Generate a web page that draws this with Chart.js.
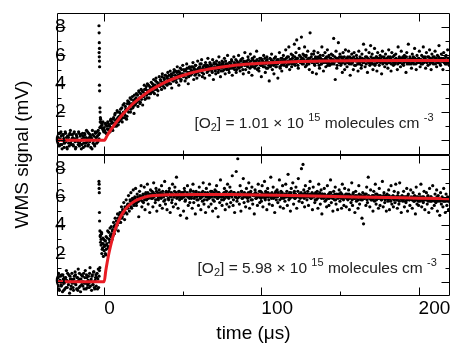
<!DOCTYPE html>
<html>
<head>
<meta charset="utf-8">
<script src="https://cdn.jsdelivr.net/npm/chart.js@4.4.1/dist/chart.umd.min.js"></script>
<style>
  body { margin: 0; background: #fff; }
</style>
</head>
<body>
<canvas id="c" width="454" height="345"></canvas>
<script>
// traces are sampled every 0.5 us; sweep A starts at -30 us, sweep B at -29.75 us
const t0 = -30;
const t0b = -29.75;
const dt = 0.5;

// [O2] = 1.01e15 : WMS signal (mV), one row = 5 us
const lowO2Signal = [
  0.3,-0.2,0.5,-0.4,0.1,0.6,-0.3,0.0,0.4,-0.5,
  -0.1,0.5,0.2,-0.6,0.3,-0.2,0.4,0.7,-0.3,0.1,
  0.2,-0.4,0.6,-0.1,-0.5,0.3,0.0,-0.3,0.5,-0.2,
  0.4,-0.6,0.1,0.3,-0.2,0.5,-0.4,0.2,-0.1,0.6,
  -0.3,0.2,0.4,-0.5,0.1,0.7,-0.2,0.3,-0.4,0.5,
  0.2,0.6,-0.1,0.4,0.5,1.3,1.0,1.2,0.8,0.7,
  0.9,0.6,1.1,0.5,0.8,1.2,0.7,1.0,1.4,0.9,
  1.3,0.7,1.6,1.0,1.9,1.2,1.5,2.0,1.1,1.7,
  1.4,2.2,1.8,1.3,2.5,1.9,1.6,2.4,2.1,1.7,
  2.8,2.0,2.6,3.0,2.2,2.5,3.1,2.4,1.9,2.9,
  2.6,3.3,2.9,2.4,3.5,3.0,2.7,3.6,3.1,2.5,
  3.4,3.9,2.9,3.6,3.2,4.0,3.5,3.0,3.8,3.3,
  4.1,3.5,3.8,4.3,3.3,3.9,4.4,3.6,3.2,4.0,
  4.5,3.8,4.2,3.6,4.7,4.0,4.4,3.7,4.6,4.1,
  3.9,4.8,4.3,4.0,4.9,4.5,3.7,4.6,4.2,5.0,
  4.4,4.9,4.1,5.2,4.6,3.9,4.8,5.1,4.3,4.7,
  5.3,4.5,4.9,4.2,5.0,5.4,4.6,4.0,5.1,4.8,
  4.6,5.2,4.9,5.5,4.3,5.0,5.3,4.7,4.4,5.6,
  5.1,4.6,5.4,4.9,5.7,4.5,5.2,5.0,4.4,5.5,
  5.3,4.8,5.8,5.0,4.6,5.4,5.2,4.9,5.7,4.3,
  5.5,5.0,4.7,5.6,5.2,4.8,5.9,5.3,4.5,5.1,
  5.6,4.9,5.3,5.8,4.7,5.4,5.0,6.0,5.2,4.8,
  5.5,5.1,5.7,4.6,5.3,5.9,5.0,5.4,4.8,5.6,
  5.2,6.0,5.4,4.9,5.7,5.3,5.8,4.7,5.5,6.2,
  5.0,5.6,5.3,5.9,4.8,5.5,6.1,5.2,4.6,5.7,
  5.4,5.9,5.1,5.6,6.3,5.0,5.5,4.9,5.8,5.3,
  4.5,5.7,5.4,6.0,5.2,4.8,5.6,5.9,5.1,5.5,
  4.2,5.8,5.3,6.1,5.0,5.6,4.7,5.4,5.9,5.2,
  5.7,4.4,5.5,6.2,5.1,5.8,4.9,5.4,6.0,5.3,
  5.6,6.4,5.2,5.9,5.5,6.6,5.0,5.7,6.1,5.4,
  6.0,5.5,6.8,5.3,6.2,7.1,5.8,5.1,6.5,5.6,
  5.9,7.3,5.4,6.1,5.7,6.6,5.2,6.0,5.5,6.3,
  5.8,5.0,7.6,5.6,6.1,4.8,5.7,6.3,5.3,5.9,
  4.7,5.5,6.2,5.8,5.1,6.0,5.4,6.6,5.6,4.9,
  5.7,6.2,5.2,5.9,6.4,5.5,6.0,5.3,5.8,6.1,
  5.4,6.0,7.2,5.6,4.3,6.3,5.1,5.8,6.9,5.5,
  6.1,5.3,5.9,4.8,6.2,5.6,5.0,6.4,5.7,5.2,
  5.9,6.3,5.4,4.6,5.8,6.1,5.5,5.0,6.2,5.7,
  5.3,6.0,5.6,4.9,6.3,5.4,5.8,5.1,6.1,5.5,
  6.8,5.7,5.2,6.4,5.9,4.8,5.6,6.2,5.3,6.7,
  5.5,6.1,5.0,5.8,6.5,5.4,5.9,4.9,6.2,5.6,
  5.3,6.0,5.7,4.7,6.3,5.5,5.9,5.2,6.1,5.6,
  5.8,5.1,6.4,5.5,5.9,4.9,6.2,5.6,5.3,6.0,
  5.4,6.1,5.7,5.0,6.6,5.5,5.8,5.2,6.3,5.7,
  5.9,5.3,6.0,5.6,4.8,6.2,5.5,6.8,5.4,5.9,
  5.6,5.1,6.1,5.8,5.4,6.5,5.7,5.0,6.0,5.5,
  5.8,6.3,5.2,5.7,6.0,5.4,6.6,5.5,5.9,5.1,
  6.2,5.6,5.3,5.9,6.4,5.5,5.0,6.1,5.7,5.4,
  5.9,6.3,5.6,5.2,6.0,5.5,6.7,5.8,5.3,6.1,
  5.6,5.0,6.2,5.7,5.4,6.0,5.5,6.4,5.8,5.3,
  5.7
];
const lowO2SignalB = [
  -0.4,0.2,0.0,0.5,-0.3,0.3,-0.6,0.4,0.1,-0.2,
  0.6,-0.1,-0.5,0.3,0.2,-0.4,0.5,-0.2,0.0,0.4,
  -0.3,0.5,0.1,-0.6,0.4,0.2,-0.1,0.6,-0.4,0.3,
  0.0,-0.3,0.5,-0.5,0.2,0.4,-0.2,0.7,0.1,-0.4,
  0.5,-0.1,0.3,0.2,-0.6,0.4,0.0,-0.3,0.6,0.2,
  -0.2,0.3,0.7,0.1,0.9,1.5,0.9,1.1,1.3,0.6,
  0.7,1.2,0.5,1.0,1.3,0.8,1.1,0.6,1.5,1.2,
  0.9,1.5,1.2,1.8,1.4,1.0,2.1,1.6,1.3,2.0,
  1.9,1.5,2.3,1.6,2.0,2.6,1.8,2.2,1.5,2.6,
  2.2,2.7,2.4,2.0,2.9,2.6,2.3,2.8,3.2,2.5,
  3.0,2.7,3.2,2.8,3.4,2.6,3.3,2.9,3.5,3.1,
  3.1,3.6,3.3,3.8,3.0,3.5,3.9,3.3,3.6,3.4,
  3.7,4.0,3.4,3.9,3.6,4.2,3.8,4.1,3.5,3.9,
  4.0,4.3,3.9,4.5,4.1,3.8,4.3,4.6,4.0,4.4,
  4.5,4.1,4.6,4.3,4.0,4.7,4.4,4.2,4.8,4.3,
  4.6,4.3,4.8,4.5,4.9,4.4,4.7,4.2,5.0,4.6,
  4.7,5.0,4.6,4.9,4.4,5.1,4.8,4.5,5.2,4.7,
  5.0,4.7,5.2,4.8,5.1,4.6,5.3,4.9,5.0,4.8,
  4.9,5.2,5.0,5.4,4.8,5.1,4.7,5.3,5.0,5.2,
  5.1,5.3,4.9,5.2,5.5,5.0,5.3,4.8,5.1,5.4,
  5.2,4.9,5.4,5.1,5.3,5.0,5.5,5.2,4.9,5.4,
  5.3,5.5,5.0,5.2,5.6,5.1,5.4,5.3,5.0,5.5,
  5.2,5.4,5.6,5.1,5.3,5.5,5.2,5.7,5.0,5.4,
  5.5,5.1,5.3,5.6,5.2,5.4,5.0,5.6,5.3,5.5,
  5.3,5.5,5.2,5.7,5.4,5.1,5.6,5.3,5.8,5.2,
  5.6,5.2,5.5,5.3,5.7,5.4,5.1,5.6,5.4,5.8,
  5.3,5.6,5.2,5.5,5.8,5.4,5.1,5.7,5.5,5.3,
  5.5,5.2,5.7,5.4,5.6,5.3,5.8,5.5,5.2,5.6,
  5.4,5.7,5.5,5.2,5.6,5.3,5.8,5.6,5.4,5.7,
  5.5,5.8,5.3,5.6,5.9,5.4,5.7,5.5,5.2,5.8,
  5.6,5.4,5.9,5.7,5.5,5.8,5.3,5.6,6.0,5.5,
  5.7,5.5,5.8,5.4,6.0,5.6,5.9,5.3,5.7,5.6,
  5.4,5.8,5.6,5.9,5.5,5.7,6.1,5.4,5.8,5.6,
  5.7,5.5,5.9,5.3,5.6,5.8,5.4,5.7,6.0,5.5,
  5.6,5.8,5.5,5.7,5.3,5.9,5.6,5.4,5.8,5.7,
  5.5,5.7,5.4,5.9,5.6,5.8,5.3,5.6,5.7,5.9,
  5.6,5.4,5.8,5.5,5.7,5.9,5.4,5.6,5.8,5.5,
  5.7,5.5,5.9,5.6,5.4,5.8,5.6,5.9,5.3,5.7,
  5.6,5.8,5.4,5.7,5.5,5.9,5.6,5.3,5.8,5.6,
  5.5,5.7,5.9,5.4,5.6,5.8,5.5,5.7,5.4,5.9,
  5.7,5.4,5.8,5.6,5.3,5.7,5.9,5.5,5.8,5.6,
  5.8,5.5,5.7,5.9,5.4,5.6,5.8,5.5,5.7,5.4,
  5.6,5.9,5.5,5.7,5.8,5.4,5.6,5.9,5.5,5.7,
  5.5,5.8,5.6,5.4,5.7,5.9,5.5,5.6,5.8,5.4,
  5.7,5.5,5.8,5.6,5.9,5.4,5.7,5.5,5.6,5.8,
  5.4,5.7,5.5,5.9,5.6,5.8,5.4,5.7,5.5,5.6,
  5.8,5.5,5.7,5.4,5.6,5.9,5.5,5.8,5.6,5.7,
  5.5,5.9,5.6,5.7,5.4,5.8,5.6,5.5,5.9,5.6,
  5.7,5.4,5.8,5.6,5.5,5.9,5.7,5.4,5.6,5.8,
  5.6,5.8,5.5,5.7,5.9,5.4,5.6,5.8,5.5,5.7
];

// [O2] = 5.98e15
const highO2Signal = [
  0.4,-0.3,0.6,-0.6,0.1,-0.2,0.5,-0.7,0.2,-0.1,
  -0.5,0.3,0.8,-0.4,0.0,0.5,-0.8,0.2,-0.3,0.6,
  0.1,-0.6,0.4,0.7,-0.2,-0.5,0.3,0.9,-0.4,0.2,
  -0.7,0.5,0.0,-0.3,0.6,-0.1,0.8,-0.5,0.3,-0.2,
  0.4,-0.4,1.0,0.1,-0.6,0.5,-0.2,0.7,-0.5,0.3,
  -0.3,0.6,0.2,-0.4,0.8,3.2,2.6,2.0,2.4,1.8,
  2.2,2.9,1.9,2.6,3.1,2.4,3.5,2.8,3.3,3.9,
  3.0,3.7,4.2,3.4,4.5,3.8,4.1,4.8,3.6,4.4,
  4.9,4.2,5.3,4.6,5.0,5.6,4.4,5.2,5.8,4.8,
  5.5,6.1,5.0,5.8,6.3,5.2,5.9,6.5,5.4,6.0,
  6.6,5.4,6.2,5.7,4.6,6.4,5.9,6.8,5.3,6.1,
  5.6,6.7,5.1,6.3,5.8,6.9,5.5,6.2,4.9,6.5,
  5.9,6.4,5.3,7.0,6.1,5.6,6.6,5.0,6.3,5.8,
  6.5,5.4,6.0,6.8,5.2,6.2,5.7,7.1,5.5,6.4,
  5.1,6.3,5.8,6.6,4.9,6.1,5.6,6.9,5.3,6.0,
  6.7,5.5,7.4,6.0,5.2,6.4,5.8,4.7,6.2,5.9,
  6.3,5.0,6.6,5.7,6.1,4.5,6.8,5.4,6.0,5.6,
  6.5,5.9,5.2,6.9,5.6,6.2,4.8,6.4,5.8,6.1,
  5.4,6.7,6.0,5.1,6.3,5.7,7.0,5.5,6.2,4.9,
  6.6,5.8,6.1,5.3,6.9,6.0,5.5,6.4,5.0,6.2,
  5.7,6.5,5.2,6.8,5.9,4.6,6.3,5.6,7.2,6.0,
  5.4,6.2,5.8,6.6,5.1,6.4,5.5,6.9,6.0,5.3,
  6.7,5.6,6.1,7.5,5.4,6.3,4.9,6.0,7.8,5.7,
  8.7,6.2,5.5,6.8,5.0,6.4,5.9,7.3,5.6,6.1,
  5.3,6.6,6.0,5.7,7.0,5.2,6.3,5.8,6.7,5.5,
  6.1,4.8,6.5,5.9,6.2,5.4,6.9,6.0,5.6,6.4,
  5.7,6.8,5.3,6.1,7.1,5.8,6.3,5.1,6.6,6.0,
  5.5,6.2,7.4,5.9,5.4,6.7,6.0,4.9,6.3,5.8,
  6.5,5.6,6.1,7.2,5.3,6.4,5.9,6.8,5.2,6.0,
  5.7,6.9,6.2,5.4,7.6,5.8,6.3,5.0,6.6,6.1,
  7.0,5.5,6.4,5.9,6.7,5.2,6.1,7.3,5.7,6.2,
  6.0,8.0,5.6,8.3,6.5,5.3,6.8,6.1,5.8,6.4,
  5.4,6.6,7.1,5.9,6.2,5.1,6.7,6.0,5.6,6.3,
  5.8,6.4,5.2,6.9,6.1,5.5,6.5,4.8,6.2,5.9,
  6.6,5.7,6.0,5.3,6.8,5.9,5.4,6.3,7.2,5.6,
  6.1,5.0,6.4,5.8,6.7,5.5,6.2,5.1,6.0,6.5,
  5.7,6.3,5.2,6.9,5.9,5.4,6.6,6.0,5.3,6.2,
  5.8,6.5,5.1,6.1,5.6,7.0,5.4,6.3,5.9,4.9,
  6.4,5.7,6.0,5.2,6.8,5.5,6.1,5.8,4.5,6.3,
  4.1,5.9,6.2,5.4,6.7,5.6,7.4,6.0,5.3,6.5,
  5.8,6.1,5.0,6.4,5.7,6.9,5.5,6.2,5.9,5.2,
  6.6,5.4,6.0,5.8,7.1,5.3,6.3,5.6,6.1,5.0,
  6.2,5.7,6.5,5.1,5.9,6.8,5.5,6.0,5.3,6.4,
  5.6,6.9,5.8,5.2,6.3,5.5,7.0,5.9,4.9,6.1,
  5.7,6.4,5.3,6.0,5.6,6.6,5.0,6.2,5.8,5.4,
  6.5,5.9,5.2,6.3,5.7,6.1,4.8,6.7,5.5,6.0,
  5.4,6.2,5.8,6.9,5.3,6.0,5.6,6.4,5.1,5.9,
  6.3,5.5,6.1,4.9,6.6,5.7,6.0,5.2,6.8,5.8,
  5.4,6.2,5.6,6.5,5.0,6.1,5.8,4.7,6.3,5.5,
  6.0,5.3,6.6,5.7,4.9,6.2,5.4,6.0,5.1,5.8,
  5.6
];
const highO2SignalB = [
  -0.2,0.3,-0.5,0.1,0.4,-0.3,0.0,0.5,-0.6,0.2,
  0.3,-0.4,0.1,0.6,-0.2,0.0,0.4,-0.5,0.2,-0.1,
  -0.4,0.2,-0.1,0.5,0.0,0.3,-0.6,0.1,0.6,-0.3,
  0.2,-0.2,0.4,0.0,-0.5,0.3,-0.1,0.5,-0.4,0.1,
  -0.1,0.6,-0.3,0.2,0.4,-0.2,0.7,-0.4,0.1,0.5,
  0.3,-0.5,0.9,0.4,1.0,2.8,3.5,2.3,2.7,3.0,
  2.6,2.0,3.2,2.7,3.6,2.5,3.0,3.8,3.2,3.4,
  3.6,3.3,3.9,4.0,3.7,4.3,4.0,4.5,4.2,4.7,
  4.6,4.9,4.5,5.1,4.8,5.0,5.3,4.9,5.2,5.4,
  5.2,5.5,5.4,5.7,5.3,5.6,5.8,5.5,5.9,5.6,
  5.8,5.6,6.0,5.7,5.9,6.1,5.8,6.0,5.7,6.2,
  6.0,5.8,6.2,5.9,6.1,6.3,5.9,6.1,6.0,6.2,
  6.1,5.9,6.3,6.0,6.2,5.8,6.4,6.1,5.9,6.2,
  6.0,6.3,5.9,6.2,6.4,6.0,6.1,5.8,6.3,6.1,
  6.2,5.9,6.4,6.1,6.0,6.3,5.8,6.2,6.0,6.4,
  6.1,6.3,5.9,6.2,6.0,6.4,6.1,5.9,6.3,6.0,
  6.2,6.0,6.4,5.8,6.1,6.3,6.0,6.2,5.9,6.4,
  6.0,6.2,6.1,6.4,5.9,6.1,6.3,6.0,6.2,5.8,
  6.3,6.1,5.9,6.2,6.0,6.4,6.1,5.8,6.3,6.0,
  6.1,6.3,6.0,5.9,6.2,6.4,6.0,6.1,5.8,6.3,
  6.0,6.2,6.4,6.1,5.9,6.3,6.0,6.2,6.1,5.8,
  6.2,6.0,6.3,5.9,6.1,6.4,6.0,6.2,5.9,6.3,
  6.1,6.4,6.0,6.2,5.8,6.3,6.1,6.0,6.2,5.9,
  6.3,6.0,6.2,6.1,6.4,5.9,6.2,6.0,6.3,6.1,
  6.0,6.2,5.9,6.3,6.1,6.0,6.4,6.2,5.8,6.1,
  6.2,6.1,6.3,5.9,6.0,6.2,6.1,6.4,6.0,5.9,
  6.3,6.0,6.1,6.2,5.9,6.4,6.0,6.1,6.3,5.8,
  6.1,6.2,6.0,6.3,6.1,5.9,6.2,6.0,6.4,6.1,
  6.0,6.3,6.1,5.8,6.2,6.0,6.3,6.1,5.9,6.2,
  6.2,6.0,6.4,6.1,6.0,6.2,5.9,6.3,6.1,6.0,
  6.1,6.3,5.9,6.2,6.0,6.1,6.4,6.0,6.2,5.9,
  6.3,6.1,6.0,6.2,5.9,6.3,6.1,6.0,6.2,6.1,
  6.0,6.2,6.1,5.9,6.3,6.0,6.2,6.1,5.8,6.2,
  6.1,5.9,6.2,6.0,6.3,6.1,5.9,6.2,6.0,6.1,
  6.2,6.0,5.8,6.1,6.0,6.2,5.9,6.1,6.3,6.0,
  5.9,6.1,6.0,6.2,5.8,6.1,6.0,5.9,6.2,6.0,
  6.1,5.9,6.2,6.0,5.8,6.1,6.0,6.2,5.9,6.0,
  6.0,6.2,5.9,6.1,6.0,5.8,6.2,6.0,5.9,6.1,
  5.9,6.1,6.0,5.8,6.2,6.0,5.9,6.1,5.8,6.0,
  6.1,5.9,6.0,6.2,5.8,6.0,6.1,5.9,6.0,5.8,
  6.0,5.8,6.1,5.9,6.0,6.2,5.8,6.0,5.9,6.1,
  5.9,6.1,5.8,6.0,5.9,6.1,6.0,5.8,6.0,5.9,
  6.0,5.8,6.1,5.9,5.7,6.0,5.9,6.1,5.8,6.0,
  5.9,6.0,5.8,6.1,5.9,5.7,6.0,5.9,5.8,6.0,
  5.8,6.0,5.9,5.7,6.0,5.8,6.1,5.9,5.8,5.9,
  6.0,5.8,5.9,6.0,5.7,5.9,5.8,6.0,5.9,5.7,
  5.9,5.7,6.0,5.8,5.9,5.7,6.0,5.8,5.9,5.8,
  5.8,6.0,5.7,5.9,5.8,6.0,5.7,5.9,5.8,5.9,
  5.7,5.9,5.8,6.0,5.7,5.8,5.9,5.7,5.9,5.8,
  5.9,5.7,5.8,5.9,5.7,5.9,5.8,5.7,5.9,5.8
];

// photolysis spike near -3 us
const lowSpikeTime = [-3.3,-3.2,-3.1,-3.0,-3.2,-3.1,-3.0,-2.9,-3.0,-2.9,-2.7,-2.6,-2.4,-2.2];
const lowSpikeSignal = [8.1,7.6,6.9,6.5,6.2,5.9,5.6,5.2,3.9,3.5,2.3,2.0,1.6,1.3];
const highSpikeTime = [-3.3,-3.2,-3.2,-3.1,-3.0,-2.9,-2.7,-2.4,-2.0,-1.6,-1.2,-0.8,0.2,0.8,1.3];
const highSpikeSignal = [7.1,6.9,6.6,6.3,4.9,4.3,3.6,3.3,3.0,3.4,2.7,3.1,2.5,2.9,2.3];

// fitted curves (red)
const lowFitTime = [-30,0,2,4,6,8,10,12,15,18,21,25,30,35,40,45,50,60,70,80,90,100,120,140,160,190,220];
const lowFitSignal = [0,0,0.36,0.71,1.02,1.32,1.60,1.86,2.22,2.55,2.84,3.19,3.57,3.89,4.16,4.39,4.58,4.89,5.10,5.26,5.37,5.45,5.55,5.60,5.62,5.64,5.65];
const highFitTime = [-30,0,1,2,3,4,6,8,10,12,15,18,22,26,30,40,60,80,100,120,140,160,180,200,220];
const highFitSignal = [0,0,0.76,1.42,2.0,2.51,3.36,4.0,4.51,4.89,5.32,5.6,5.84,5.99,6.08,6.16,6.18,6.17,6.14,6.1,6.05,6.0,5.96,5.91,5.87];

const o2Conc = ['1.01', '5.98'];
const xLabelTicks = [0, 100, 200];
const xMinorTicks = [50, 150];
const yLabelTicks = [0, 2, 4, 6, 8];
const yMinorTicks = [1, 3, 5, 7];

const FONT = '"Liberation Sans", Arial, sans-serif';
const fitColor = 'rgb(232,28,36)';

function trace(vals, start) {
  return vals.map((v, i) => ({ x: start + i * dt, y: v }));
}
function pairs(ts, vs) {
  return ts.map((t, i) => ({ x: t, y: vs[i] }));
}

//점 데이터
function dots(data, axis) {
  return { data: data, yAxisID: axis, pointRadius: 1.6, pointBorderWidth: 0,
    pointBackgroundColor: '#000', showLine: false, order: 2 };
}
function fitLine(data, axis) {
  return { data: data, yAxisID: axis, showLine: true, borderColor: fitColor, borderWidth: 3,
    pointRadius: 0, cubicInterpolationMode: 'monotone', order: 0 };
}

function yScale() {
  return {
    type: 'linear', axis: 'y', position: 'left', stack: 'panels', stackWeight: 1,
    min: -1, max: 9,
    grid: { display: false, drawTicks: false }, border: { display: false },
    afterBuildTicks: s => { s.ticks = yLabelTicks.map(v => ({ value: v })); },
    afterFit: s => { s.width = 57; s.paddingTop = 0; s.paddingBottom = 0; },
    ticks: { mirror: true, padding: -2, z: 1, autoSkip: false, color: '#000',
      font: { size: 19 }, callback: v => String(v) }
  };
}

// 테두리, 안쪽 눈금, 글자
const framePlugin = {
  id: 'frame',
  afterDraw(chart) {
    const ctx = chart.ctx;
    const area = chart.chartArea;
    const xs = chart.scales.x;
    ctx.save();
    ctx.strokeStyle = '#000';
    ctx.lineWidth = 1;
    ctx.beginPath();
    ['yTop', 'yBot'].forEach(id => {
      const ys = chart.scales[id];
      const top = Math.round(ys.top) + 0.5;
      const bot = Math.round(ys.bottom) - 0.5;
      const l = Math.round(area.left) + 0.5;
      const r = Math.round(area.right) - 0.5;
      ctx.rect(l, top, r - l, bot - top);
      const xt = (v, len) => {
        const px = Math.round(xs.getPixelForValue(v)) + 0.5;
        ctx.moveTo(px, top); ctx.lineTo(px, top + len);
        ctx.moveTo(px, bot); ctx.lineTo(px, bot - len);
      };
      const yt = (v, len) => {
        const py = Math.round(ys.getPixelForValue(v)) + 0.5;
        ctx.moveTo(l, py); ctx.lineTo(l + len, py);
        ctx.moveTo(r, py); ctx.lineTo(r - len, py);
      };
      xLabelTicks.forEach(v => xt(v, 8));
      xMinorTicks.forEach(v => xt(v, 4));
      yLabelTicks.forEach(v => yt(v, 8));
      yMinorTicks.forEach(v => yt(v, 4));
    });
    ctx.stroke();

    // y title
    ctx.fillStyle = '#000';
    ctx.font = '19px ' + FONT;
    ctx.textAlign = 'center';
    ctx.textBaseline = 'middle';
    ctx.save();
    ctx.translate(23, (area.top + area.bottom) / 2);
    ctx.rotate(-Math.PI / 2);
    ctx.fillText('WMS signal (mV)', 0, 0);
    ctx.restore();

    // concentration notes
    ctx.textAlign = 'left';
    ctx.textBaseline = 'alphabetic';
    ctx.fillStyle = '#222';
    const notes = [
      { axis: 'yTop', t: 57.4, v: 0.85, conc: o2Conc[0] },
      { axis: 'yBot', t: 59.4, v: 0.62, conc: o2Conc[1] }
    ];
    notes.forEach(n => {
      let x = xs.getPixelForValue(n.t);
      const y = chart.scales[n.axis].getPixelForValue(n.v);
      const big = '15.5px ' + FONT, small = '11px ' + FONT;
      const parts = [
        ['[O', big, 0], ['2', small, 3], ['] = ' + n.conc + ' \u00d7 10 ', big, 0],
        ['15', small, -7], [' molecules cm ', big, 0], ['-3', small, -7]
      ];
      parts.forEach(p => {
        ctx.font = p[1];
        ctx.fillText(p[0], x, y + p[2]);
        x += ctx.measureText(p[0]).width;
      });
    });
    ctx.restore();
  }
};

Chart.defaults.font.family = FONT;

new Chart(document.getElementById('c'), {
  type: 'scatter',
  data: {
    datasets: [
      fitLine(pairs(lowFitTime, lowFitSignal), 'yTop'),
      fitLine(pairs(highFitTime, highFitSignal), 'yBot'),
      dots(trace(lowO2Signal, t0), 'yTop'),
      dots(trace(lowO2SignalB, t0b), 'yTop'),
      dots(pairs(lowSpikeTime, lowSpikeSignal), 'yTop'),
      dots(trace(highO2Signal, t0), 'yBot'),
      dots(trace(highO2SignalB, t0b), 'yBot'),
      dots(pairs(highSpikeTime, highSpikeSignal), 'yBot')
    ]
  },
  options: {
    responsive: false,
    devicePixelRatio: 1,
    animation: false,
    events: [],
    layout: { padding: { top: 13, left: 0, right: 0, bottom: 0 } },
    plugins: { legend: { display: false }, tooltip: { enabled: false } },
    scales: {
      x: {
        type: 'linear', position: 'bottom', min: -30, max: 220,
        grid: { display: false, drawTicks: false }, border: { display: false },
        afterBuildTicks: s => { s.ticks = xLabelTicks.map(v => ({ value: v })); },
        afterFit: s => { s.height = 49; s.paddingLeft = 0; s.paddingRight = 0; },
        ticks: { align: 'start', padding: 1, maxRotation: 0, autoSkip: false,
          color: '#000', font: { size: 19 }, callback: v => String(v) },
        title: { display: true, text: 'time (\u03bcs)', color: '#000', font: { size: 19 },
          padding: { top: 0, bottom: 0 } }
      },
      yBot: yScale(),
      yTop: yScale()
    }
  },
  plugins: [framePlugin]
});
</script>
</body>
</html>
